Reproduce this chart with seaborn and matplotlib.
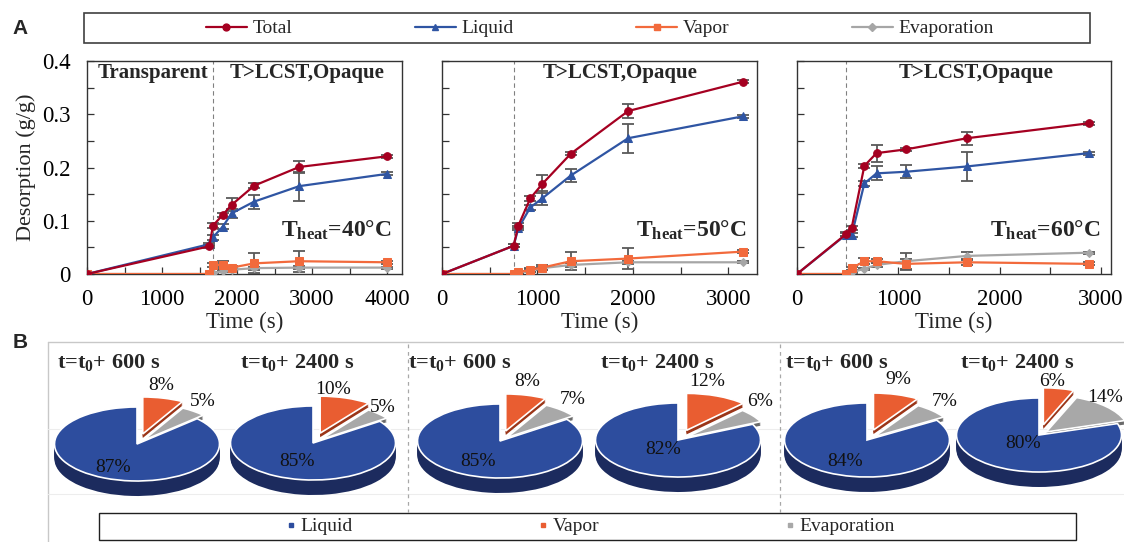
import numpy as np
import matplotlib
matplotlib.use("Agg")
import matplotlib.pyplot as plt
import seaborn as sns
from matplotlib.lines import Line2D
from matplotlib.ticker import MultipleLocator

# ---------------- data (panel A) ----------------
t40 = [0, 1630, 1680, 1810, 1930, 2230, 2830, 4000]
total40 = [0, 0.052, 0.091, 0.111, 0.130, 0.166, 0.201, 0.221]
liquid40 = [0, 0.056, 0.069, 0.089, 0.114, 0.136, 0.165, 0.188]
vapor40 = [0, 0, 0.017, 0.017, 0.012, 0.020, 0.024, 0.022]
evap40 = [0, 0, 0.002, 0.005, 0.008, 0.011, 0.012, 0.012]
total40_err = [0, 0.003, 0.005, 0.004, 0.012, 0.004, 0.012, 0.003]
liquid40_err = [0, 0.003, 0.005, 0.004, 0.009, 0.013, 0.027, 0.003]
vapor40_err = [0, 0, 0.004, 0.007, 0.003, 0.019, 0.020, 0.003]
evap40_err = [0, 0, 0.002, 0.002, 0.002, 0.003, 0.003, 0.002]

t50 = [0, 750, 800, 925, 1050, 1350, 1950, 3150]
total50 = [0, 0.053, 0.091, 0.142, 0.169, 0.226, 0.306, 0.361]
liquid50 = [0, 0.053, 0.086, 0.125, 0.142, 0.185, 0.255, 0.296]
vapor50 = [0, 0, 0.003, 0.008, 0.012, 0.024, 0.029, 0.042]
evap50 = [0, 0, 0.002, 0.006, 0.011, 0.017, 0.022, 0.022]
total50_err = [0, 0.003, 0.004, 0.004, 0.016, 0.003, 0.013, 0.003]
liquid50_err = [0, 0.003, 0.004, 0.004, 0.013, 0.012, 0.027, 0.003]
vapor50_err = [0, 0, 0.002, 0.004, 0.004, 0.017, 0.019, 0.003]
evap50_err = [0, 0, 0.002, 0.003, 0.003, 0.004, 0.003, 0.002]

t60 = [0, 485, 540, 665, 785, 1075, 1680, 2880]
total60 = [0, 0.075, 0.087, 0.203, 0.227, 0.234, 0.255, 0.283]
liquid60 = [0, 0.074, 0.073, 0.170, 0.189, 0.192, 0.202, 0.227]
vapor60 = [0, 0, 0.011, 0.024, 0.024, 0.019, 0.022, 0.019]
evap60 = [0, 0, 0.003, 0.010, 0.017, 0.024, 0.034, 0.040]
total60_err = [0, 0.003, 0.004, 0.004, 0.016, 0.003, 0.012, 0.003]
liquid60_err = [0, 0.003, 0.004, 0.004, 0.013, 0.012, 0.027, 0.003]
vapor60_err = [0, 0, 0.003, 0.006, 0.004, 0.010, 0.006, 0.003]
evap60_err = [0, 0, 0.002, 0.002, 0.003, 0.016, 0.007, 0.002]

t_heat = [40, 50, 60]
t_switch = [1680, 750, 485]
series_names = ["Total", "Liquid", "Vapor", "Evaporation"]

# ---------------- data (panel B) ----------------
pie_offsets = [600, 2400, 600, 2400, 600, 2400]
liquid_pct = [87, 85, 85, 82, 84, 80]
vapor_pct = [8, 10, 8, 12, 9, 6]
evap_pct = [5, 5, 7, 6, 7, 14]
pie_names = ["Liquid", "Vapor", "Evaporation"]

# ---------------- style ----------------
sns.set_theme(style="ticks")
plt.rcParams["font.family"] = ["Liberation Serif", "DejaVu Serif"]
plt.rcParams["mathtext.fontset"] = "custom"
plt.rcParams["mathtext.rm"] = "Liberation Serif"
plt.rcParams["mathtext.bf"] = "Liberation Serif:bold"
plt.rcParams["mathtext.it"] = "Liberation Serif:italic"

C_TOTAL, C_LIQ, C_VAP, C_EVA = "#A50021", "#2F55A3", "#F26A3C", "#A6A6A6"
P_LIQ, P_VAP, P_EVA = "#2D4D9E", "#E95D31", "#A8A8A8"
S_LIQ, S_VAP, S_EVA = "#1C2B5E", "#9B3518", "#6A6A6A"
ERR_C = "#595959"

W, H = 1124, 542
fig = plt.figure(figsize=(W / 100, H / 100), dpi=100)


def add_px(l, t, r, b, **kw):
    return fig.add_axes([l / W, 1 - b / H, (r - l) / W, (b - t) / H], **kw)


# background layer (frames, grid lines)
bg = add_px(0, 0, W, H, zorder=-5)
bg.set_xlim(0, W)
bg.set_ylim(H, 0)
bg.axis("off")

# ---------------- panel A ----------------
panels = [
    (t40, total40, liquid40, vapor40, evap40,
     total40_err, liquid40_err, vapor40_err, evap40_err),
    (t50, total50, liquid50, vapor50, evap50,
     total50_err, liquid50_err, vapor50_err, evap50_err),
    (t60, total60, liquid60, vapor60, evap60,
     total60_err, liquid60_err, vapor60_err, evap60_err),
]
boxes = [(87, 61, 402, 274), (442, 61, 757, 274), (797, 61, 1111, 274)]
xmax = [4200, 3300, 3100]
opaque_x = [0.70, 0.565, 0.57]

styles = [
    (C_EVA, "D", 4.0),
    (C_VAP, "s", 5.5),
    (C_LIQ, "^", 5.5),
    (C_TOTAL, "o", 5.5),
]

for i, (p, box) in enumerate(zip(panels, boxes)):
    ax = add_px(*box)
    t = p[0]
    ys = [p[4], p[3], p[2], p[1]]
    errs = [p[8], p[7], p[6], p[5]]
    ax.axvline(t_switch[i], color="#808080", ls=(0, (4, 3)), lw=0.8, zorder=1)
    for (c, m, ms), y, e in zip(styles, ys, errs):
        ax.errorbar(t, y, yerr=e, fmt="none", ecolor=ERR_C, elinewidth=1.3,
                    capsize=4, capthick=1.3, zorder=2)
        sns.lineplot(x=t, y=y, ax=ax, color=c, marker=m, markersize=ms,
                     markeredgecolor=c, linewidth=1.6, sort=False,
                     errorbar=None, legend=False, zorder=3)
    ax.set_xlim(0, xmax[i])
    ax.set_ylim(0, 0.4)
    ax.xaxis.set_major_locator(MultipleLocator(1000))
    ax.xaxis.set_minor_locator(MultipleLocator(500))
    ax.yaxis.set_major_locator(MultipleLocator(0.1))
    ax.yaxis.set_minor_locator(MultipleLocator(0.05))
    ax.tick_params(which="both", direction="in", length=5, width=0.9,
                   color="#333333", labelsize=16.5, labelcolor="black")
    ax.tick_params(axis="y", pad=12)
    ax.tick_params(axis="x", pad=11)
    ax.yaxis.set_major_formatter(plt.FuncFormatter(
        lambda v, _: "0" if abs(v) < 1e-9 else f"{v:.1f}"))
    if i > 0:
        ax.set_yticklabels([])
    else:
        ax.set_ylabel("Desorption (g/g)", fontsize=16, labelpad=4)
    ax.set_xlabel("Time (s)", fontsize=16.5, labelpad=1)
    for s in ax.spines.values():
        s.set_color("#333333")
        s.set_linewidth(1.0)
    ax.set_facecolor("white")
    if i == 0:
        ax.text(0.211, 0.92, "Transparent", transform=ax.transAxes,
                ha="center", va="baseline", fontsize=15, fontweight="bold")
    ax.text(opaque_x[i], 0.92, "T>LCST,Opaque", transform=ax.transAxes,
            ha="center", va="baseline", fontsize=15, fontweight="bold")
    ax.text(0.968, 0.175, r"T$_{\mathbf{heat}}$=" + f"{t_heat[i]}°C",
            transform=ax.transAxes, ha="right", va="baseline",
            fontsize=17, fontweight="bold")

# legend A
handles_a = [Line2D([], [], color=c, marker=m, markersize=ms * 0.9, lw=1.6)
             for (c, m, ms) in [styles[3], styles[2], styles[1], styles[0]]]
bg.add_patch(plt.Rectangle((84, 13), 1006, 30, fill=False,
                           edgecolor="#404040", lw=1.2))
fig.legend(handles_a, series_names, loc="center",
           bbox_to_anchor=(600 / W, 1 - 28.5 / H), ncol=4, frameon=False,
           fontsize=14, handlelength=2.1, handletextpad=0.3,
           columnspacing=6.3)

# ---------------- panel B ----------------
# frame / grid of the pie area
bg.plot([48, 48], [342, H], color="#C8C8C8", lw=1.0)
bg.plot([48, W], [342, 342], color="#C8C8C8", lw=1.0)
for gy in (429, 494):
    bg.plot([48, W], [gy, gy], color="#EDEDED", lw=0.8)
for sx in (408, 780):
    bg.plot([sx, sx], [344, 512], color="#A8A8A8", lw=0.9, ls=(0, (3, 3)))

centers = [(137, 444), (313, 443), (500, 441), (678, 440), (867, 440),
           (1039, 435)]
title_x = [57, 240, 408, 600, 785, 960]
label_off = [
    [(-24, 23), (24, -59), (66, -42)],
    [(-16, 19), (20, -53), (70, -36)],
    [(-22, 21), (27, -59), (73, -41)],
    [(-15, 10), (29, -58), (82, -38)],
    [(-22, 22), (31, -60), (78, -38)],
    [(-16, 8), (13, -53), (66, -38)],
]
RX, RY, DEPTH, DEPTH_SMALL = 82.5, 37.0, 15.0, 5.0

for k, (cx, cy) in enumerate(centers):
    pax = add_px(cx - 100, cy - 70, cx + 100, cy + 30, zorder=2)
    vals = [vapor_pct[k], evap_pct[k], liquid_pct[k]]
    expl = [0.28, 0.12, 0.0]
    for d in np.linspace(DEPTH / RY, 0.02, 14):
        wed, _ = pax.pie(vals, colors=[S_VAP, S_EVA, S_LIQ], explode=expl,
                         startangle=90, counterclock=False, center=(0, -d),
                         wedgeprops=dict(linewidth=0))
        if d > DEPTH_SMALL / RY:
            wed[0].set_visible(False)
            wed[1].set_visible(False)
    pax.pie(vals, colors=[P_VAP, P_EVA, P_LIQ], explode=expl,
            startangle=90, counterclock=False, center=(0, 0),
            wedgeprops=dict(linewidth=1.2, edgecolor="white"))
    pax.set_aspect("auto")
    pax.set_xlim(-100 / RX, 100 / RX)
    pax.set_ylim(-30 / RY, 70 / RY)
    pax.axis("off")
    pcts = [liquid_pct[k], vapor_pct[k], evap_pct[k]]
    for (dx, dy), v in zip(label_off[k], pcts):
        pax.text(dx / RX, -dy / RY, f"{v}%", ha="center", va="center",
                 fontsize=14, color="#111111", clip_on=False)

ov = add_px(0, 0, W, H, zorder=10)
ov.set_xlim(0, W)
ov.set_ylim(H, 0)
ov.axis("off")
ov.patch.set_alpha(0)
for k in range(6):
    ov.text(title_x[k], 368, r"t=t$_{\mathbf{0}}$+ " + f"{pie_offsets[k]} s",
            ha="left", va="baseline", fontsize=16, fontweight="bold")

ov.text(20, 28, "A", fontsize=15, fontweight="bold", family="Liberation Sans",
        ha="center", va="center")
ov.text(20, 342, "B", fontsize=15, fontweight="bold", family="Liberation Sans",
        ha="center", va="center")

# legend B
ov.add_patch(plt.Rectangle((99, 513), 977, 27, fill=False,
                           edgecolor="#202020", lw=1.0))
handles_b = [Line2D([], [], color=c, marker="s", ls="none", markersize=3.5)
             for c in (P_LIQ, P_VAP, P_EVA)]
fig.legend(handles_b, pie_names, loc="center",
           bbox_to_anchor=(591 / W, 1 - 526.5 / H), ncol=3, frameon=False,
           fontsize=14, handlelength=0.4, handletextpad=0.3,
           columnspacing=9.6)

fig.savefig("out.png", dpi=100)
